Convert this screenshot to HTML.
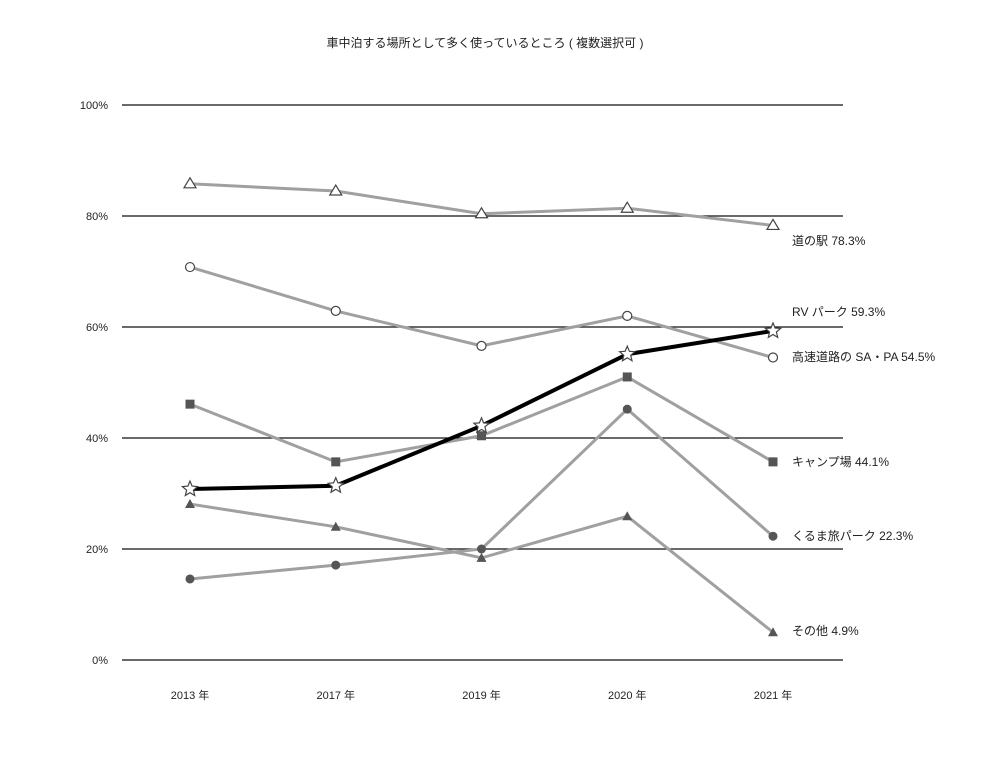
<!DOCTYPE html>
<html><head><meta charset="utf-8"><style>
body{margin:0;background:#fff;}
svg text{font-family:"Liberation Sans","Noto Sans CJK JP",sans-serif;fill:#222;}
</style></head><body>
<svg width="993" height="753">
<text x="485" y="47" font-size="12" text-anchor="middle">車中泊する場所として多く使っているところ ( 複数選択可 )</text>
<g id="grid"></g><g id="series"></g><g id="labels"></g>
</svg>
<script>
const categories=["2013 年","2017 年","2019 年","2020 年","2021 年"];
const yTicks=[0,20,40,60,80,100];
const names=["道の駅","高速道路","RV","キャンプ","くるま旅","その他"];
const michi=[85.8,84.5,80.4,81.4,78.3];
const kosoku=[70.8,62.9,56.6,62.0,54.5];
const rv=[30.8,31.4,42.2,55.1,59.3];
const camp=[46.1,35.7,40.4,51.0,35.7];
const kuruma=[14.6,17.1,20.0,45.2,22.3];
const other=[28.1,24.0,18.4,25.9,5.0];
const labelsText=["道の駅 78.3%","高速道路の SA・PA 54.5%","RV パーク 59.3%","キャンプ場 44.1%","くるま旅パーク 22.3%","その他 4.9%"];
const NS="http://www.w3.org/2000/svg";
const X=i=>190+i*145.75, Y=v=>660-v*5.55;
function mk(t,a,p){const e=document.createElementNS(NS,t);for(const k in a)e.setAttribute(k,a[k]);p.appendChild(e);return e;}
const grid=document.getElementById('grid'),ser=document.getElementById('series'),lab=document.getElementById('labels');
yTicks.forEach(t=>{const l=mk('line',{x1:122,x2:843,y1:Y(t),y2:Y(t),stroke:'#111','stroke-width':1.3},grid);

const tx=mk('text',{x:108,y:Y(t)+4,'font-size':11,'text-anchor':'end'},grid);tx.textContent=t+'%';
});
categories.forEach((c,i)=>{const tx=mk('text',{x:X(i),y:699,'font-size':11,'text-anchor':'middle'},grid);tx.textContent=c;
});
function star(cx,cy,r){let p=[];for(let k=0;k<10;k++){const a=-Math.PI/2+k*Math.PI/5,rr=k%2?r*0.45:r;p.push((cx+rr*Math.cos(a)).toFixed(1)+','+(cy+rr*Math.sin(a)).toFixed(1));}return p.join(' ');}
function draw(vals,name,color,w,marker){const g=mk('g',{},ser);
mk('polyline',{points:vals.map((v,i)=>X(i)+','+Y(v)).join(' '),fill:'none',stroke:color,'stroke-width':w},g);
vals.forEach((v,i)=>{const x=X(i),y=Y(v);let m;
if(marker=='tri-open')m=mk('polygon',{points:`${x},${y-6} ${x-6},${y+4} ${x+6},${y+4}`,fill:'#fff',stroke:'#444','stroke-width':1.2},g);
else if(marker=='circle-open')m=mk('circle',{cx:x,cy:y,r:4.5,fill:'#fff',stroke:'#444','stroke-width':1.2},g);
else if(marker=='star')m=mk('polygon',{points:star(x,y,8),fill:'#fff',stroke:'#444','stroke-width':1.2},g);
else if(marker=='square')m=mk('rect',{x:x-4.5,y:y-4.5,width:9,height:9,fill:'#555'},g);
else if(marker=='circle')m=mk('circle',{cx:x,cy:y,r:4.5,fill:'#555'},g);
else m=mk('polygon',{points:`${x},${y-5} ${x-5},${y+4} ${x+5},${y+4}`,fill:'#555'},g);
});}
draw(michi,'michi','#a0a0a0',3,'tri-open');
draw(kosoku,'kosoku','#a0a0a0',3,'circle-open');
draw(camp,'camp','#a0a0a0',3,'square');
draw(kuruma,'kuruma','#a0a0a0',3,'circle');
draw(other,'other','#a0a0a0',3,'tri');
draw(rv,'rv','#000',4,'star');
const lblY=[245,361,316,466,540,635];
labelsText.forEach((t,i)=>{const tx=mk('text',{x:792,y:lblY[i],'font-size':12},lab);tx.textContent=t;
});
</script>
</body></html>
